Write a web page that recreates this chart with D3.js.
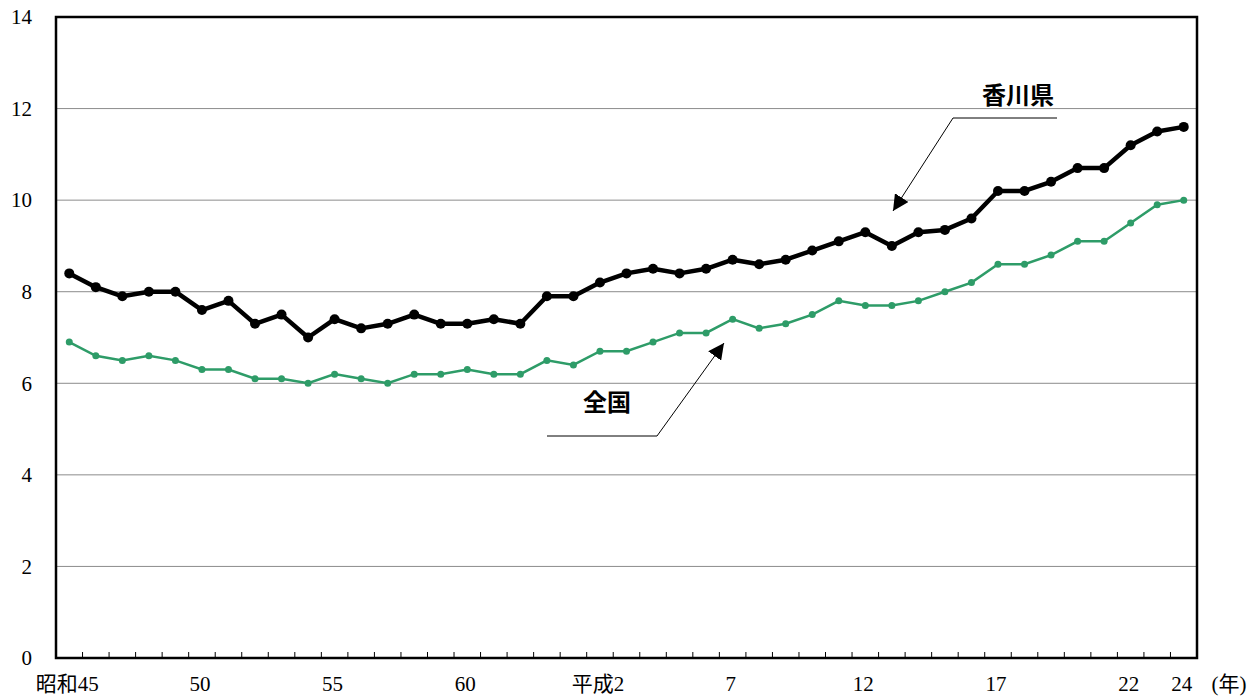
<!DOCTYPE html>
<html>
<head>
<meta charset="utf-8">
<script src="https://cdn.jsdelivr.net/npm/d3@7"></script>
<style>
  body { margin: 0; background: #fff; }
  svg { display: block; }
  .tick text { font-family: "Liberation Serif", "DejaVu Serif", "Noto Sans CJK JP", serif; }
</style>
</head>
<body>
<svg id="chart" width="1250" height="697"></svg>
<script>
// years: 昭和45 (1970) .. 平成24 (2012)
var years = d3.range(1970, 2013);

// labels shown under the x axis
var xTickLabels = [
  [1970, "昭和45"], [1975, "50"], [1980, "55"], [1985, "60"], [1990, "平成2"],
  [1995, "7"], [2000, "12"], [2005, "17"], [2010, "22"], [2012, "24"]
];

var yTicks = [0, 2, 4, 6, 8, 10, 12, 14];

// 香川県
var kagawa = [8.4, 8.1, 7.9, 8.0, 8.0, 7.6, 7.8, 7.3, 7.5, 7.0,
  7.4, 7.2, 7.3, 7.5, 7.3, 7.3, 7.4, 7.3, 7.9, 7.9,
  8.2, 8.4, 8.5, 8.4, 8.5, 8.7, 8.6, 8.7, 8.9, 9.1,
  9.3, 9.0, 9.3, 9.35, 9.6, 10.2, 10.2, 10.4, 10.7, 10.7,
  11.2, 11.5, 11.6];

// 全国
var zenkoku = [6.9, 6.6, 6.5, 6.6, 6.5, 6.3, 6.3, 6.1, 6.1, 6.0,
  6.2, 6.1, 6.0, 6.2, 6.2, 6.3, 6.2, 6.2, 6.5, 6.4,
  6.7, 6.7, 6.9, 7.1, 7.1, 7.4, 7.2, 7.3, 7.5, 7.8,
  7.7, 7.7, 7.8, 8.0, 8.2, 8.6, 8.6, 8.8, 9.1, 9.1,
  9.5, 9.9, 10.0];

(function () {
  var svg = d3.select("#chart");
  var pLeft = 56, pRight = 1197, pTop = 17, pBottom = 658;

  var x = d3.scaleBand().domain(years).range([pLeft, pRight]);
  var y = d3.scaleLinear().domain([0, 14]).range([pBottom, pTop]);
  var cx = function (yr) { return x(yr) + x.bandwidth() / 2; };

  // gridlines
  svg.append("g")
    .selectAll("line")
    .data(yTicks.filter(function (d) { return d > 0 && d < 14; }))
    .join("line")
    .attr("x1", pLeft).attr("x2", pRight)
    .attr("y1", function (d) { return y(d); })
    .attr("y2", function (d) { return y(d); })
    .attr("stroke", "#8c8c8c").attr("stroke-width", 1);

  // y axis labels
  svg.append("g")
    .attr("transform", "translate(" + pLeft + ",0)")
    .call(d3.axisLeft(y).tickValues(yTicks).tickSize(0).tickPadding(24))
    .call(function (g) { g.select(".domain").remove(); })
    .selectAll("text")
    .attr("font-size", 21).attr("fill", "#000");

  // small ticks between categories on the bottom
  svg.append("g")
    .selectAll("line")
    .data(years.slice(1))
    .join("line")
    .attr("x1", function (d) { return x(d); })
    .attr("x2", function (d) { return x(d); })
    .attr("y1", pBottom).attr("y2", pBottom - 6)
    .attr("stroke", "#000").attr("stroke-width", 1);

  // x labels
  var xAxis = d3.axisBottom(x)
    .tickValues(xTickLabels.map(function (d) { return d[0]; }))
    .tickFormat(function (d) { return xTickLabels.find(function (e) { return e[0] === d; })[1]; })
    .tickSize(0).tickPadding(18);
  svg.append("g")
    .attr("transform", "translate(-2," + pBottom + ")")
    .call(xAxis)
    .call(function (g) { g.select(".domain").remove(); })
    .selectAll("text")
    .attr("font-size", 21).attr("fill", "#000");

  svg.append("text")
    .attr("x", 1229).attr("y", 691)
    .attr("text-anchor", "middle")
    .attr("font-family", "Liberation Serif, Noto Sans CJK JP, serif")
    .attr("font-size", 21)
    .text("(年)");

  // lines
  var line = d3.line()
    .x(function (d, i) { return cx(years[i]); })
    .y(function (d) { return y(d); });

  svg.append("path")
    .attr("d", line(zenkoku))
    .attr("fill", "none").attr("stroke", "#2e9c68").attr("stroke-width", 2.5);
  svg.append("g")
    .selectAll("circle")
    .data(zenkoku)
    .join("circle")
    .attr("cx", function (d, i) { return cx(years[i]); })
    .attr("cy", function (d) { return y(d); })
    .attr("r", 3.5).attr("fill", "#2e9c68");

  svg.append("path")
    .attr("d", line(kagawa))
    .attr("fill", "none").attr("stroke", "#000").attr("stroke-width", 4.5)
    .attr("stroke-linejoin", "round");
  svg.append("g")
    .selectAll("circle")
    .data(kagawa)
    .join("circle")
    .attr("cx", function (d, i) { return cx(years[i]); })
    .attr("cy", function (d) { return y(d); })
    .attr("r", 5).attr("fill", "#000");

  // plot frame
  svg.append("rect")
    .attr("x", pLeft).attr("y", pTop)
    .attr("width", pRight - pLeft).attr("height", pBottom - pTop)
    .attr("fill", "none").attr("stroke", "#000").attr("stroke-width", 2.5);

  // annotations
  svg.append("defs").append("marker")
    .attr("id", "arr")
    .attr("viewBox", "0 0 10 10")
    .attr("refX", 10).attr("refY", 5)
    .attr("markerWidth", 16).attr("markerHeight", 16)
    .attr("markerUnits", "userSpaceOnUse")
    .attr("orient", "auto")
    .append("path").attr("d", "M0,0 L10,5 L0,10 z").attr("fill", "#000");

  svg.append("polyline")
    .attr("points", "1057,118 953,118 893,211")
    .attr("fill", "none").attr("stroke", "#000").attr("stroke-width", 1)
    .attr("marker-end", "url(#arr)");
  svg.append("polyline")
    .attr("points", "547,436 657,436 724,343")
    .attr("fill", "none").attr("stroke", "#000").attr("stroke-width", 1)
    .attr("marker-end", "url(#arr)");

  svg.append("text")
    .attr("x", 1018).attr("y", 104)
    .attr("text-anchor", "middle")
    .attr("font-family", "Noto Sans CJK JP, sans-serif")
    .attr("font-weight", "bold").attr("font-size", 24)
    .text("香川県");
  svg.append("text")
    .attr("x", 607).attr("y", 411)
    .attr("text-anchor", "middle")
    .attr("font-family", "Noto Sans CJK JP, sans-serif")
    .attr("font-weight", "bold").attr("font-size", 24)
    .text("全国");
})();
</script>
</body>
</html>
